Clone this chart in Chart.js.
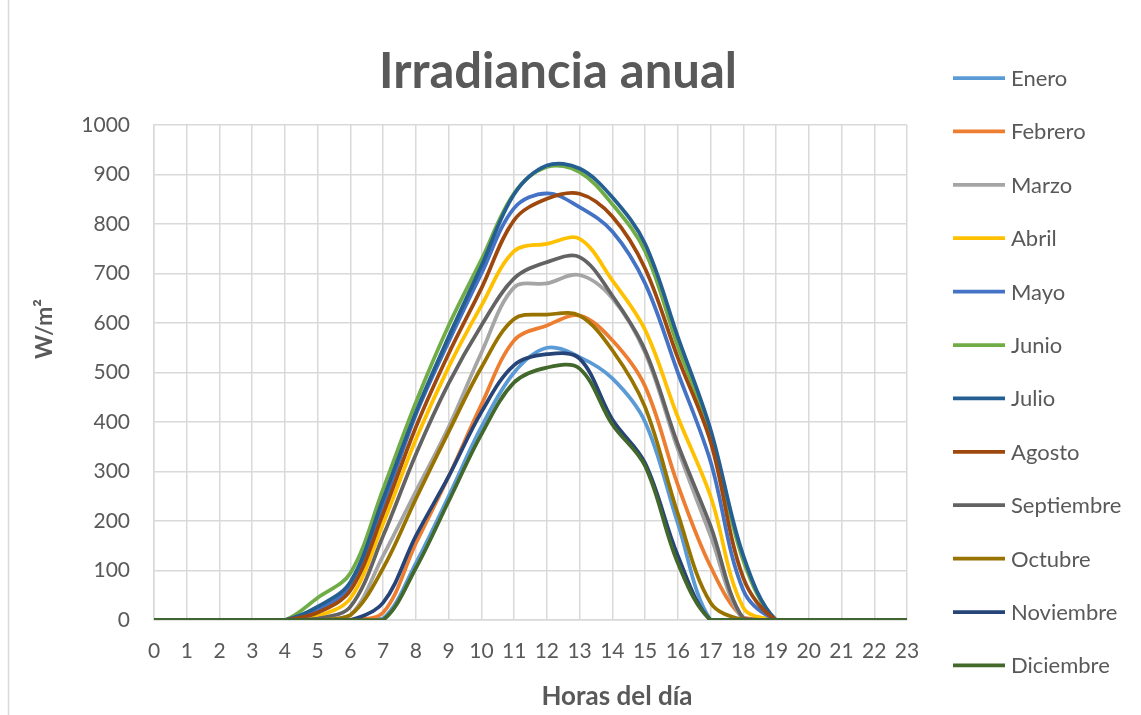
<!DOCTYPE html>
<html>
<head>
<meta charset="utf-8">
<script src="https://cdn.jsdelivr.net/npm/chart.js@4.4.1/dist/chart.umd.min.js"></script>
<style>
  html, body { margin: 0; padding: 0; background: #fff; }
  #wrap { width: 1141px; height: 715px; position: relative; }
</style>
</head>
<body>
<div id="wrap"><canvas id="irrChart" width="1141" height="715"></canvas></div>
<script>
// Data
const hours = ['0','1','2','3','4','5','6','7','8','9','10','11','12','13','14','15','16','17','18','19','20','21','22','23'];
const months = ['Enero','Febrero','Marzo','Abril','Mayo','Junio','Julio','Agosto','Septiembre','Octubre','Noviembre','Diciembre'];
const colors = ['#5B9BD5','#ED7D31','#A5A5A5','#FFC000','#4472C4','#70AD47','#255E91','#9E480E','#636363','#997300','#264478','#43682B'];

const enero      = [0,0,0,0,0,0,0,3,115,250,390,500,550,531,488,400,195,0,0,0,0,0,0,0];
const febrero    = [0,0,0,0,0,0,0,15,155,290,435,565,595,615,565,472,273,108,5,0,0,0,0,0];
const marzo      = [0,0,0,0,0,0,10,130,260,390,540,672,680,697,650,540,345,170,0,0,0,0,0,0];
const abril      = [0,0,0,0,0,8,44,195,365,511,635,745,760,770,686,586,410,250,25,0,0,0,0,0];
const mayo       = [0,0,0,0,0,20,70,232,415,562,700,832,862,834,785,680,500,320,60,0,0,0,0,0];
const junio      = [0,0,0,0,0,45,95,265,440,595,728,862,915,905,840,745,553,375,120,0,0,0,0,0];
const julio      = [0,0,0,0,0,27,77,245,420,572,715,860,918,912,854,760,572,385,130,0,0,0,0,0];
const agosto     = [0,0,0,0,0,15,60,215,390,538,670,808,851,861,815,710,530,360,85,0,0,0,0,0];
const septiembre = [0,0,0,0,0,3,27,170,335,478,595,690,723,733,655,545,355,190,3,0,0,0,0,0];
const octubre    = [0,0,0,0,0,0,10,105,245,380,510,608,617,615,545,430,215,35,0,0,0,0,0,0];
const noviembre  = [0,0,0,0,0,0,0,35,170,290,420,515,537,528,405,317,130,0,0,0,0,0,0,0];
const diciembre  = [0,0,0,0,0,0,0,0,105,240,375,480,510,508,395,311,115,0,0,0,0,0,0,0];

const series = [enero, febrero, marzo, abril, mayo, junio, julio, agosto, septiembre, octubre, noviembre, diciembre];

const yTicks = [0,100,200,300,400,500,600,700,800,900,1000];

const FONT = "'Lato', 'Open Sans', sans-serif";
const TEXT = '#595959';

// Title, axis titles, legend and frame drawn on the canvas
const decorPlugin = {
    id: 'decor',
    afterDraw(chart) {
        const c = chart.ctx;
        c.save();
        // frame line on the left
        c.strokeStyle = '#d9d9d9';
        c.lineWidth = 1.5;
        c.beginPath();
        c.moveTo(8.5, 0);
        c.lineTo(8.5, 715);
        c.stroke();

        // title
        c.fillStyle = TEXT;
        c.font = "bold 49px " + FONT;
        c.textAlign = 'center';
        c.textBaseline = 'alphabetic';
        c.fillText('Irradiancia anual', 558, 88);

        // axis titles
        c.font = "bold 26px " + FONT;
        c.textBaseline = 'middle';
        c.fillText('Horas del día', 617, 697);
        c.save();
        c.translate(45, 329);
        c.rotate(-Math.PI / 2);
        c.font = "bold 23px " + FONT;
        c.fillText('W/m²', 0, 0);
        c.restore();

        // legend
        c.font = "22px " + FONT;
        c.textAlign = 'left';
        c.textBaseline = 'middle';
        months.forEach((m, i) => {
            const y = 78 + i * 53.4;
            c.strokeStyle = colors[i];
            c.lineWidth = 3.75;
            c.beginPath();
            c.moveTo(953, y);
            c.lineTo(1005, y);
            c.stroke();
            c.fillStyle = TEXT;
            c.fillText(m, 1011, y + 1);
        });
        c.restore();
    }
};

const ctx = document.getElementById('irrChart').getContext('2d');

new Chart(ctx, {
    type: 'line',
    data: {
        labels: hours,
        datasets: months.map((m, i) => ({
            label: m,
            data: series[i],
            borderColor: colors[i],
            backgroundColor: colors[i],
            borderWidth: 3.75,
            pointRadius: 0,
            fill: false,
            tension: 0.35,
            order: 11 - i
        }))
    },
    options: {
        responsive: false,
        animation: false,
        layout: {
            padding: { top: 125, right: 234, bottom: 0, left: 0 }
        },
        plugins: {
            legend: { display: false },
            title: { display: false },
            tooltip: { enabled: false }
        },
        scales: {
            x: {
                offset: false,
                grid: {
                    color: '#d9d9d9',
                    lineWidth: 1.5,
                    drawTicks: false,
                    offset: false
                },
                border: { color: '#d9d9d9', width: 1.5 },
                ticks: {
                    color: TEXT,
                    font: { family: FONT, size: 21 },
                    padding: 19,
                    maxRotation: 0,
                    autoSkip: false
                },
                afterFit(scale) { scale.height = 95; }
            },
            y: {
                min: 0,
                max: 1000,
                afterBuildTicks(scale) {
                    scale.ticks = yTicks.map(v => ({ value: v }));
                },
                grid: {
                    color: '#d9d9d9',
                    lineWidth: 1.5,
                    drawTicks: false
                },
                border: { color: '#d9d9d9', width: 1.5 },
                ticks: {
                    color: TEXT,
                    font: { family: FONT, size: 21 },
                    padding: 24,
                    callback: v => String(v)
                },
                afterFit(scale) { scale.width = 154; }
            }
        }
    },
    plugins: [decorPlugin]
});
</script>
</body>
</html>
